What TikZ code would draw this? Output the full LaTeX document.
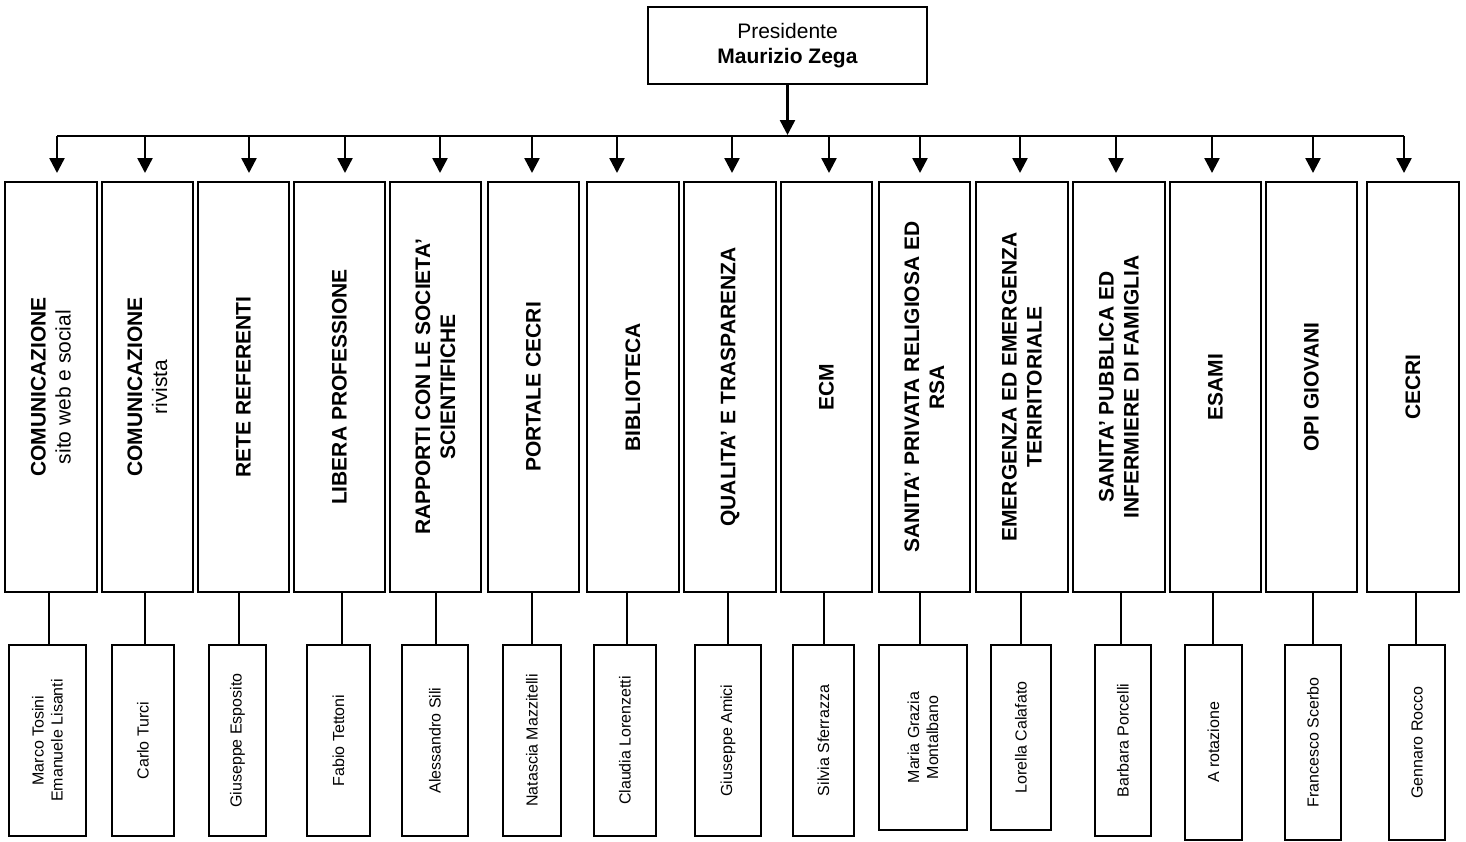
\documentclass[tikz,border=0pt]{standalone}
\usepackage{fontspec}
\setmainfont{Liberation Sans}
\usetikzlibrary{arrows.meta,positioning}
\newcommand{\tbig}{\fontsize{21}{25}\selectfont}
\newcommand{\tsmall}{\fontsize{16}{19}\selectfont}

\begin{document}
\begin{tikzpicture}[x=1pt,y=-1pt,
    box/.style={draw,line width=2pt,inner sep=0pt},
    lbl/.style={rotate=90,align=center,font=\tbig\bfseries},
    nome/.style={rotate=90,align=center,font=\tsmall},
    arr/.style={line width=2.5pt,-{Triangle[length=15pt,width=15pt]}},
    link/.style={line width=2pt}]
    \useasboundingbox (0,0) rectangle (1466,841);

    \node[box,minimum width=279,minimum height=77,align=center,font=\tbig] (P) at (787.5,45.5)
        {Presidente\\\textbf{Maurizio Zega}};

    \foreach \i/\l/\r/\a in {1/5/97/57, 2/102/193/145, 3/198/289/249, 4/294/385/345,
        5/390/481/440, 6/488/579/532, 7/587/679/617, 8/684/776/732, 9/781/872/829,
        10/879/970/920, 11/976/1068/1020, 12/1073/1165/1116, 13/1170/1261/1212,
        14/1266/1357/1313, 15/1367/1459/1404}{
        \node[box,minimum width={\r-\l},minimum height=410] (U\i) at ({(\l+\r)/2},387) {};
        \coordinate (B\i) at (\a,136);
        \draw[arr,shorten >=8pt] (B\i) -- (B\i |- U\i.north);
    }
    \draw[link] (B1) -- (B15);
    \draw[arr,shorten >=1pt] (P) -- (P |- B1);

    \foreach \i/\c/\l/\r/\b in {1/49/9/86/836, 2/145/112/174/836, 3/239/209/266/836,
        4/342/307/370/836, 5/436/402/468/836, 6/532/503/561/836, 7/627/594/656/836,
        8/728/695/761/836, 9/824/793/854/836, 10/920/879/967/830, 11/1021/991/1051/830,
        12/1121/1095/1151/836, 13/1213/1185/1242/840, 14/1313/1285/1341/840,
        15/1416/1389/1445/840}{
        \node[box,minimum width={\r-\l},minimum height={\b-645}] (D\i) at ({(\l+\r)/2},{(645+\b)/2}) {};
        \coordinate (C\i) at (\c,600);
        \draw[link] (C\i |- U\i.south) -- (C\i |- D\i.north);
    }

    \foreach \i/\t in {1/{COMUNICAZIONE\\\textmd{sito web e social}}, 2/{COMUNICAZIONE\\\textmd{rivista}},
        3/{RETE REFERENTI}, 4/{LIBERA PROFESSIONE}, 5/{RAPPORTI CON LE SOCIETA’\\SCIENTIFICHE},
        6/{PORTALE CECRI}, 7/{BIBLIOTECA}, 8/{QUALITA’ E TRASPARENZA}, 9/{ECM},
        10/{SANITA’ PRIVATA RELIGIOSA ED\\RSA}, 11/{EMERGENZA ED EMERGENZA\\TERIRITORIALE},
        12/{SANITA’ PUBBLICA ED\\INFERMIERE DI FAMIGLIA}, 13/{ESAMI}, 14/{OPI GIOVANI}, 15/{CECRI}}
        \node[lbl] (T\i) at (U\i) {\t};

    \foreach \i/\t in {1/{Marco Tosini\\Emanuele Lisanti}, 2/{Carlo Turci}, 3/{Giuseppe Esposito},
        4/{Fabio Tettoni}, 5/{Alessandro Sili}, 6/{Natascia Mazzitelli}, 7/{Claudia Lorenzetti},
        8/{Giuseppe Amici}, 9/{Silvia Sferrazza}, 10/{Maria Grazia\\Montalbano},
        11/{Lorella Calafato}, 12/{Barbara Porcelli}, 13/{A rotazione}, 14/{Francesco Scerbo},
        15/{Gennaro Rocco}}
        \node[nome] (N\i) at (D\i) {\t};
\end{tikzpicture}
\end{document}
